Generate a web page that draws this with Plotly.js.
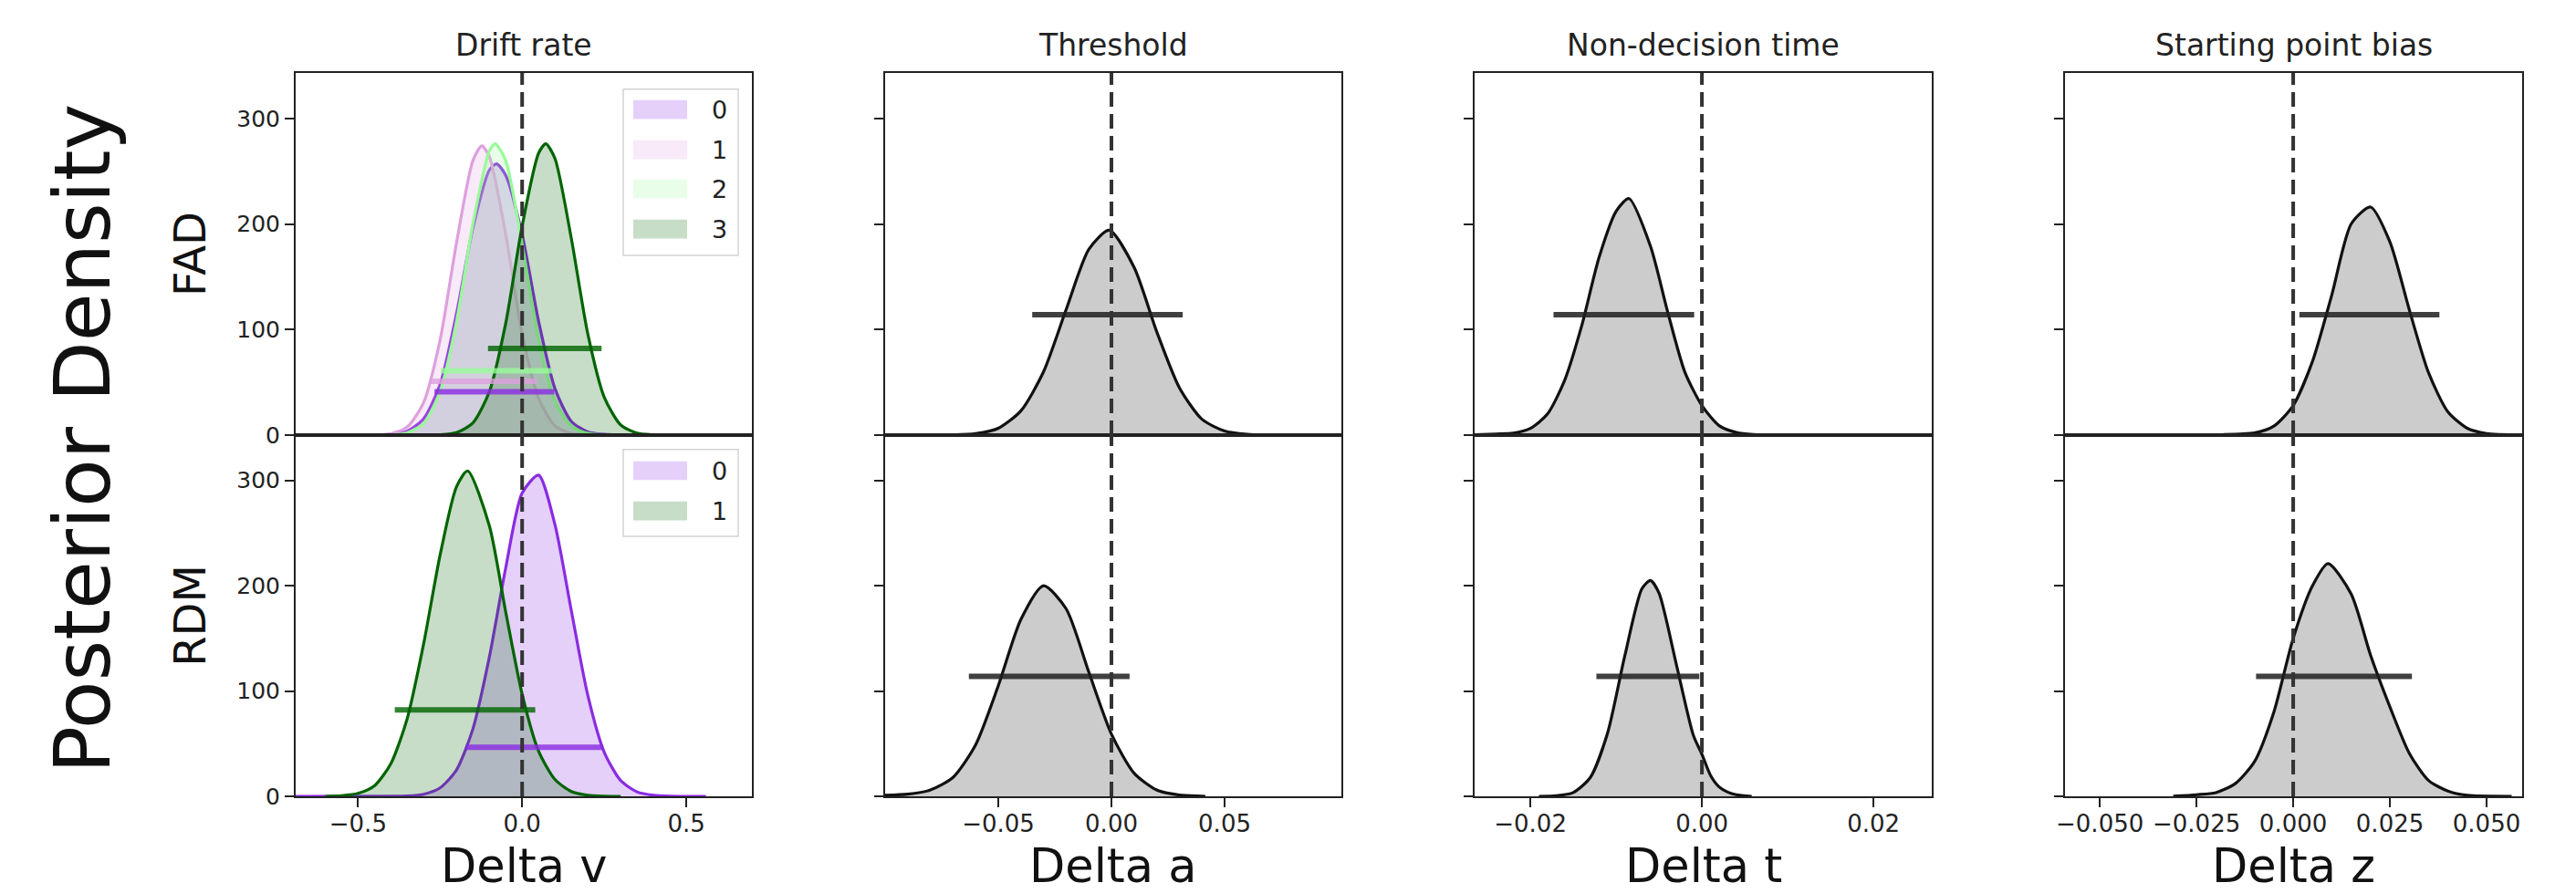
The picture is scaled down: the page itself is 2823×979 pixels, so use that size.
<!DOCTYPE html>
<html><head><meta charset="utf-8">
<script src="https://cdn.plot.ly/plotly-3.0.1.min.js"></script>
<style>html,body{margin:0;padding:0;background:#fff}</style>
</head><body>
<div id="chart" style="width:2823px;height:979px"></div>
<script>
// ---------------- data ----------------
const columnTitles = ['Drift rate', 'Threshold', 'Non-decision time', 'Starting point bias'];
const rowLabels = ['FAD', 'RDM'];
const xLabels = ['Delta v', 'Delta a', 'Delta t', 'Delta z'];
const yLabel = 'Posterior Density';
const yTickVals = [0, 100, 200, 300];
const xTickVals = [[-0.5, 0, 0.5], [-0.05, 0, 0.05], [-0.02, 0, 0.02], [-0.05, -0.025, 0, 0.025, 0.05]];
const xTickText = [['−0.5', '0.0', '0.5'], ['−0.05', '0.00', '0.05'], ['−0.02', '0.00', '0.02'],
                   ['−0.050', '−0.025', '0.000', '0.025', '0.050']];
const referenceValue = 0;

// FAD, drift rate (4 groups)
const fadDriftGroups = ['0', '1', '2', '3'];
const fadDrift0X = [-0.53, -0.45, -0.4, -0.35, -0.3, -0.25, -0.2, -0.15, -0.1, -0.078, -0.05, 0, 0.05, 0.1, 0.15, 0.2, 0.25, 0.3, 0.41];
const fadDrift0Y = [0, 0.2, 0.7, 3.8, 15.6, 48, 115, 196, 251, 257, 246, 190, 108, 44, 13, 3, 0.7, 0.2, 0];
const fadDrift1X = [-0.5, -0.45, -0.4, -0.35, -0.3, -0.25, -0.2, -0.15, -0.123, -0.1, -0.05, 0, 0.05, 0.1, 0.15, 0.2, 0.3];
const fadDrift1Y = [0, 0.2, 1.3, 7.7, 31, 90, 182, 260, 274, 264, 190, 96, 35, 8.8, 1.6, 0.2, 0];
const fadDrift2X = [-0.5, -0.4, -0.35, -0.3, -0.25, -0.2, -0.15, -0.1, -0.082, -0.05, 0, 0.05, 0.1, 0.15, 0.2, 0.3];
const fadDrift2Y = [0, 0.3, 2.2, 11, 41, 107, 200, 269, 276, 260, 181, 90, 32, 8.4, 1.6, 0];
const fadDrift3X = [-0.35, -0.25, -0.2, -0.15, -0.1, -0.05, 0, 0.05, 0.072, 0.1, 0.15, 0.2, 0.25, 0.3, 0.35, 0.4, 0.45];
const fadDrift3Y = [0, 0.3, 2.3, 11.5, 41, 106, 198, 267, 276, 262, 186, 96, 36, 9.7, 1.9, 0.3, 0];
const fadDriftHdiLow = [-0.267, -0.282, -0.248, -0.104];
const fadDriftHdiHigh = [0.098, 0.045, 0.093, 0.242];
const fadDriftHdiLevel = [41, 51, 61, 82];

// RDM, drift rate (2 groups)
const rdmDriftGroups = ['0', '1'];
const rdmDrift0X = [-0.69, -0.4, -0.35, -0.3, -0.25, -0.2, -0.15, -0.1, -0.05, 0, 0.05, 0.1, 0.15, 0.2, 0.25, 0.3, 0.35, 0.4, 0.45, 0.56];
const rdmDrift0Y = [0, 0.1, 0.4, 2, 8, 25, 64, 132, 217, 288, 305, 258, 176, 96, 42, 15, 4.2, 1, 0.2, 0];
const rdmDrift1X = [-0.6, -0.55, -0.5, -0.45, -0.4, -0.35, -0.3, -0.25, -0.2, -0.166, -0.1, -0.05, 0, 0.05, 0.1, 0.15, 0.2, 0.25, 0.3];
const rdmDrift1Y = [0, 0.6, 2.8, 10, 31, 74, 145, 229, 294, 309, 257, 175, 97, 43, 16, 4.6, 1.1, 0.2, 0];
const rdmDriftHdiLow = [-0.171, -0.388];
const rdmDriftHdiHigh = [0.247, 0.040];
const rdmDriftHdiLevel = [46.5, 82];

// Threshold
const fadThresholdX = [-0.07, -0.06, -0.05, -0.04, -0.03, -0.02, -0.01, -0.001, 0.01, 0.02, 0.03, 0.04, 0.05, 0.06, 0.063];
const fadThresholdY = [0.2, 1.4, 6.5, 23, 60, 119, 176, 194, 159, 98, 45, 15, 3.9, 0.7, 0.4];
const fadThresholdHdi = [-0.035, 0.0315];
const rdmThresholdX = [-0.1, -0.09, -0.08, -0.07, -0.06, -0.05, -0.04, -0.03, -0.02, -0.01, 0, 0.01, 0.02, 0.03, 0.04, 0.0415];
const rdmThresholdY = [1, 2, 6, 18, 49, 105, 168, 200, 178, 118, 59, 22, 6, 1.2, 0.2, 0];
const rdmThresholdHdi = [-0.063, 0.008];

// Non-decision time
const fadNdtX = [-0.0266, -0.024, -0.022, -0.02, -0.018, -0.016, -0.014, -0.012, -0.01, -0.0085, -0.006, -0.004, -0.002, 0, 0.002, 0.004, 0.006, 0.0093];
const fadNdtY = [0.3, 1, 1.8, 6.4, 20, 52, 104, 168, 212, 224, 179, 117, 60, 28, 9, 2.5, 0.5, 0];
const fadNdtHdi = [-0.0173, -0.0009];
const rdmNdtX = [-0.019, -0.017, -0.015, -0.013, -0.011, -0.009, -0.007, -0.006, -0.005, -0.003, -0.001, 0, 0.001, 0.002, 0.003, 0.004, 0.0058];
const rdmNdtY = [0, 0.5, 3.6, 18, 60, 133, 197, 205, 193, 126, 58, 40, 20, 9, 4, 1.5, 0];
const rdmNdtHdi = [-0.0123, -0.0003];

// Starting point bias
const fadBiasX = [-0.018, -0.01, -0.005, 0, 0.005, 0.01, 0.015, 0.02, 0.025, 0.03, 0.035, 0.04, 0.045, 0.05, 0.059];
const fadBiasY = [0.5, 2, 8.5, 28, 70, 133, 200, 216, 183, 119, 59, 22, 6.5, 1.5, 0.2];
const fadBiasHdi = [0.0016, 0.0378];
const rdmBiasX = [-0.031, -0.025, -0.02, -0.015, -0.01, -0.005, 0, 0.005, 0.009, 0.015, 0.02, 0.025, 0.03, 0.035, 0.04, 0.045, 0.0565];
const rdmBiasY = [0.1, 1.5, 3.5, 12, 33, 80, 150, 200, 221, 192, 134, 85, 41, 15, 5, 1, 0];
const rdmBiasHdi = [-0.0096, 0.0307];

const singleHdiLevel = 114;

// ---------------- styles / layout ----------------
const FONT = 'DejaVu Sans';
const TXT = '#222222';
const W = 2823, H = 979;
const colPx = [[324, 824], [970, 1470], [1616, 2117], [2263, 2764]];
const rowPx = [[80, 477], [477, 873]];
const xRanges = [[-0.69, 0.70], [-0.1, 0.1016], [-0.0265, 0.0268], [-0.059, 0.0592]];
const yRange = [0, 343];
const fadColors = ['#8A2BE2', '#DDA0DD', '#98FB98', '#006400'];
const rdmColors = ['#8A2BE2', '#006400'];
const grayFill = '#cccccc';

function rgba(hex, a) {
  const n = parseInt(hex.slice(1), 16);
  return 'rgba(' + ((n >> 16) & 255) + ',' + ((n >> 8) & 255) + ',' + (n & 255) + ',' + a + ')';
}
function axId(k) { return k === 1 ? '' : String(k); }

const traces = [];
function addCurve(k, xs, ys, lineColor, fillColor) {
  traces.push({
    type: 'scatter', mode: 'lines', x: xs, y: ys,
    xaxis: 'x' + axId(k), yaxis: 'y' + axId(k),
    fill: 'tozeroy', fillcolor: fillColor,
    line: {color: lineColor, width: 3.2, shape: 'spline', smoothing: 0.7},
    showlegend: false, hoverinfo: 'skip'
  });
}
function addHdi(k, lo, hi, level, color) {
  traces.push({
    type: 'scatter', mode: 'lines', x: [lo, hi], y: [level, level],
    xaxis: 'x' + axId(k), yaxis: 'y' + axId(k),
    line: {color: color, width: 6},
    showlegend: false, hoverinfo: 'skip'
  });
}

// Drift rate, FAD (subplot 1)
const fadDriftX = [fadDrift0X, fadDrift1X, fadDrift2X, fadDrift3X];
const fadDriftY = [fadDrift0Y, fadDrift1Y, fadDrift2Y, fadDrift3Y];
fadDriftGroups.forEach((g, i) => addCurve(1, fadDriftX[i], fadDriftY[i], fadColors[i], rgba(fadColors[i], 0.22)));
fadDriftGroups.forEach((g, i) => addHdi(1, fadDriftHdiLow[i], fadDriftHdiHigh[i], fadDriftHdiLevel[i], rgba(fadColors[i], 0.8)));
// Drift rate, RDM (subplot 5)
const rdmDriftX = [rdmDrift0X, rdmDrift1X];
const rdmDriftY = [rdmDrift0Y, rdmDrift1Y];
rdmDriftGroups.forEach((g, i) => addCurve(5, rdmDriftX[i], rdmDriftY[i], rdmColors[i], rgba(rdmColors[i], 0.22)));
rdmDriftGroups.forEach((g, i) => addHdi(5, rdmDriftHdiLow[i], rdmDriftHdiHigh[i], rdmDriftHdiLevel[i], rgba(rdmColors[i], 0.8)));

// single-distribution panels
const singles = [
  [2, fadThresholdX, fadThresholdY, fadThresholdHdi],
  [6, rdmThresholdX, rdmThresholdY, rdmThresholdHdi],
  [3, fadNdtX, fadNdtY, fadNdtHdi],
  [7, rdmNdtX, rdmNdtY, rdmNdtHdi],
  [4, fadBiasX, fadBiasY, fadBiasHdi],
  [8, rdmBiasX, rdmBiasY, rdmBiasHdi]
];
singles.forEach(s => {
  addCurve(s[0], s[1], s[2], '#111111', grayFill);
  addHdi(s[0], s[3][0], s[3][1], singleHdiLevel, 'rgba(30,30,30,0.85)');
});

const layout = {
  width: W, height: H, autosize: false,
  margin: {l: 0, r: 0, t: 0, b: 0, pad: 0},
  paper_bgcolor: '#ffffff', plot_bgcolor: '#ffffff',
  font: {family: FONT, color: TXT, size: 27},
  showlegend: false,
  shapes: [], annotations: []
};

for (let r = 0; r < 2; r++) {
  for (let c = 0; c < 4; c++) {
    const k = r * 4 + c + 1;
    const xd = [colPx[c][0] / W, colPx[c][1] / W];
    const yd = [1 - rowPx[r][1] / H, 1 - rowPx[r][0] / H];
    const xa = {
      domain: xd, range: xRanges[c], anchor: 'y' + axId(k),
      showgrid: false, zeroline: false,
      showline: true, mirror: true, linecolor: TXT, linewidth: 2,
      tickfont: {family: FONT, size: 26, color: TXT}
    };
    if (r === 1) {
      Object.assign(xa, {
        tickmode: 'array', tickvals: xTickVals[c], ticktext: xTickText[c],
        ticks: 'outside', ticklen: 10, tickwidth: 2, tickcolor: TXT,
        ticklabelstandoff: -4
      });
      // x-axis label placed just below the tick labels
      layout.annotations.push({
        text: xLabels[c], xref: 'x' + axId(k) + ' domain', yref: 'paper',
        x: 0.5, y: 1 - 949 / H, xanchor: 'center', yanchor: 'middle', showarrow: false,
        font: {family: FONT, size: 51, color: '#111'}
      });
    } else {
      Object.assign(xa, {showticklabels: false, ticks: ''});
    }
    const ya = {
      domain: yd, range: yRange, anchor: 'x' + axId(k),
      showgrid: false, zeroline: false,
      showline: true, mirror: true, linecolor: TXT, linewidth: 2,
      tickmode: 'array', tickvals: yTickVals,
      ticks: 'outside', ticklen: 10, tickwidth: 2, tickcolor: TXT,
      showticklabels: c === 0,
      tickfont: {family: FONT, size: 25, color: TXT}
    };
    if (c === 0) {
      ya.title = {text: rowLabels[r], font: {family: FONT, size: 48, color: '#111'}, standoff: 18};
    }
    layout['xaxis' + axId(k)] = xa;
    layout['yaxis' + axId(k)] = ya;

    // dashed reference line at zero
    layout.shapes.push({
      type: 'line', xref: 'x' + axId(k), yref: 'y' + axId(k) + ' domain',
      x0: referenceValue, x1: referenceValue, y0: 0, y1: 1,
      line: {color: '#333333', width: 4, dash: '16px,8px'}, layer: 'above'
    });
  }
}

// column titles
columnTitles.forEach((t, c) => {
  layout.annotations.push({
    text: t, xref: 'paper', yref: 'paper',
    x: (colPx[c][0] + colPx[c][1]) / 2 / W, y: 1 - 50 / H,
    xanchor: 'center', yanchor: 'middle', showarrow: false,
    font: {family: FONT, size: 33, color: TXT}
  });
});
// global y label
layout.annotations.push({
  text: yLabel, xref: 'paper', yref: 'paper', x: 90 / W, y: 1 - 481 / H,
  xanchor: 'center', yanchor: 'middle', textangle: -90, showarrow: false,
  font: {family: FONT, size: 86, color: '#111'}
});

// matplotlib-style legends (patch + label) in drift-rate panels
function addLegend(k, groups, colors, boxTop, boxBottom, rowYs) {
  const xr = 'x' + axId(k) + ' domain', yr = 'y' + axId(k) + ' domain';
  layout.shapes.push({
    type: 'rect', xref: xr, yref: yr, x0: 0.718, x1: 0.97, y0: boxBottom, y1: boxTop,
    fillcolor: 'rgba(255,255,255,0.85)', line: {color: '#d3d3d3', width: 1.5}, layer: 'above'
  });
  groups.forEach((g, i) => {
    const rowY = rowYs[i];
    layout.shapes.push({
      type: 'rect', xref: xr, yref: yr, x0: 0.74, x1: 0.858, y0: rowY - 0.026, y1: rowY + 0.026,
      fillcolor: rgba(colors[i], 0.22), line: {width: 0}, layer: 'above'
    });
    layout.annotations.push({
      text: g, xref: xr, yref: yr, x: 0.928, y: rowY, xanchor: 'center', yanchor: 'middle',
      showarrow: false, font: {family: FONT, size: 27, color: TXT}
    });
  });
}
addLegend(1, fadDriftGroups, fadColors, 0.955, 0.496, [0.899, 0.788, 0.68, 0.569]);
addLegend(5, rdmDriftGroups, rdmColors, 0.96, 0.72, [0.9015, 0.79]);

Plotly.newPlot('chart', traces, layout, {staticPlot: true, displayModeBar: false});
</script>
</body></html>
